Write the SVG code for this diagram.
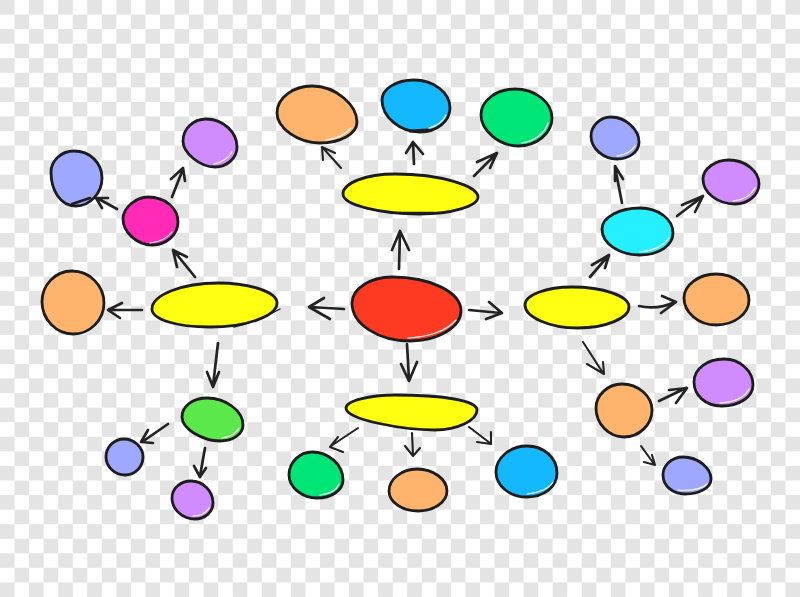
<svg xmlns="http://www.w3.org/2000/svg" width="800" height="597" viewBox="0 0 800 597">
<style>
.b{stroke:#1c1c1c;stroke-width:2.8;stroke-linejoin:round;stroke-linecap:round}
.g{fill:none;stroke:#fff;stroke-width:1.2;stroke-linecap:round}
.x{fill:none;stroke:#1c1c1c;stroke-width:2.6;stroke-linecap:round}
.a{fill:none;stroke:#232323;stroke-width:2.7;stroke-linecap:round;stroke-linejoin:round}
.t{stroke-width:2.1}
.red{fill:#ff3a22}.yel{fill:#ffff12}.org{fill:#ffb46e}.lav{fill:#9fa8ff}.pur{fill:#d08cff}.mag{fill:#ff2bb8}.blu{fill:#14b8ff}.grn{fill:#00e676}.cya{fill:#25f0ff}.lim{fill:#5ae84a}
</style>
<defs><pattern id="chk" width="29.09" height="29.12" patternUnits="userSpaceOnUse"><rect width="29.09" height="29.12" fill="#fff"/><rect width="14.55" height="14.56" fill="#e4e4e4"/><rect x="14.55" y="14.56" width="14.55" height="14.56" fill="#e4e4e4"/></pattern></defs>
<rect width="800" height="597" fill="url(#chk)"/>
<g id="connectors">
<path class="a" d="M399,269L400,231M392,250L400,231L409,250"/>
<path class="a" d="M344,309L310,307M324,298L309,307L330,319"/>
<path class="a" d="M469,310L501,313M489,302L502,313L486,319"/>
<path class="a" d="M407,344L409,380M401,364L409,381L417,362"/>
<path class="a" d="M142,310L108,310M122,303L108,310L120,318"/>
<path class="a" d="M195,277L174,251M187,257L173,250L177,267"/>
<path class="a" d="M172,197L183,169M171,179L183,168L185,181"/>
<path class="a" d="M117,209L97,198M108,198L96,198L102,208"/>
<path class="a" d="M218,343L213,386M207,372L213,387L219,372"/>
<path class="a" d="M168,424L142,442M148,430L141,442L153,443"/>
<path class="a" d="M205,448L200,476M194,466L200,477L206,468"/>
<path class="a t" d="M341,168L323,148M335,153L322,147L323,160"/>
<path class="a" d="M414,164L413,143M406,153L413,142L423,154"/>
<path class="a" d="M474,176L496,154M477,162L497,153L490,168"/>
<path class="a" d="M622,203L615,167M615,181L615,166L623,179"/>
<path class="a" d="M677,216L702,197M682,205L703,196L695,212"/>
<path class="a" d="M590,277L608,256M592,265L609,255L605,268"/>
<path class="a" d="M639,306C652,309 664,307 675,302M662,296L676,302L661,313"/>
<path class="a t" d="M583,342L603,373M587,364L604,374L603,362"/>
<path class="a" d="M659,401L686,388M669,390L687,388L676,403"/>
<path class="a t" d="M641,446L654,464M644,462L655,465L652,455"/>
<path class="a t" d="M358,428L331,446M338,437L330,447L343,452"/>
<path class="a t" d="M412,433L413,455M405,446L413,456L420,448"/>
<path class="a t" d="M469,427L490,443M477,442L491,444L491,432"/>
</g>
<g id="node-center"><path class="b red" d="M352,303C352,289 370,277 392,277C430,277 461,292 461,311C461,327 438,341 410,341C378,341 352,324 352,303Z"/><path class="g" d="M456,320C447,331 428,337 408,338"/></g>
<g id="node-yellow-left"><path class="b yel" d="M152,309C152,295 182,283 218,283C250,283 277,292 277,303C277,316 247,327 210,327C175,327 152,319 152,309Z"/><path class="x" style="stroke-width:1.4" d="M234,327C250,323 266,317 280,309"/></g>
<g id="node-yellow-top"><path class="b yel" d="M343,194C343,183 366,174 395,174C441,174 478,186 478,197C478,206 452,214 420,214C380,214 343,205 343,194Z"/><path class="x" d="M400,213L434,213"/></g>
<g id="node-yellow-right"><path class="b yel" d="M525,305C525,295 546,287 572,287C603,287 629,296 629,307C629,318 606,328 578,328C549,328 525,317 525,305Z"/></g>
<g id="node-yellow-bottom"><path class="b yel" d="M346,408C346,401 369,395 395,395C440,395 477,400 477,410C477,420 458,430 435,430C405,430 346,420 346,408Z"/></g>
<g id="node-left-orange"><path class="b org" d="M42,302C42,285 55,271 72,271C90,271 104,286 104,303C104,320 90,334 73,334C56,334 42,319 42,302Z"/><path class="x" style="stroke-width:1.4" d="M46,318C52,328 60,332 70,334"/></g>
<g id="node-magenta"><path class="b mag" d="M123,219C123,207 137,197 148,197C165,197 178,208 178,222C178,235 166,245 152,245C137,245 123,232 123,219Z"/><path class="g" d="M172,232C166,240 158,242 150,243"/></g>
<g id="node-left-lavender"><path class="b lav" d="M51,172C51,160 62,151 74,151C90,151 102,163 102,178C102,193 90,206 76,206C60,206 51,190 51,172Z"/><path class="x" d="M72,204L90,198"/></g>
<g id="node-left-purple"><path class="b pur" d="M183,141C183,129 193,119 206,119C223,119 237,132 237,147C237,158 227,167 215,167C200,167 183,153 183,141Z"/><path class="g" d="M232,152C228,159 222,162 214,164"/></g>
<g id="node-top-orange"><path class="b org" d="M277,113C277,98 293,86 312,86C337,86 357,106 357,122C357,134 340,143 320,143C298,143 277,128 277,113Z"/><path class="g" d="M351,128C345,135 336,139 326,140"/></g>
<g id="node-top-blue"><path class="b blu" d="M382,100C382,89 396,80 414,80C434,80 450,93 450,108C450,121 437,132 420,132C400,132 382,117 382,100Z"/><path class="x" style="stroke-width:3" d="M410,131L428,130"/><path class="g" d="M446,115C443,122 437,126 429,128"/></g>
<g id="node-top-green"><path class="b grn" d="M481,115C481,101 496,89 515,89C535,89 552,102 552,118C552,133 537,146 518,146C499,146 481,130 481,115Z"/><path class="g" d="M548,123C545,133 535,141 522,143"/></g>
<g id="node-right-lavender"><path class="b lav" d="M591,136C591,126 600,117 611,117C626,117 639,130 639,142C639,152 629,159 617,159C604,159 591,149 591,136Z"/><path class="g" d="M635,146C631,152 625,155 617,156"/></g>
<g id="node-right-purple"><path class="b pur" d="M703,179C703,169 715,160 729,160C745,160 759,171 759,184C759,195 748,204 735,204C718,204 703,193 703,179Z"/><path class="g" d="M755,188C751,195 743,200 733,201"/></g>
<g id="node-cyan"><path class="b cya" d="M602,229C602,217 620,208 640,208C658,208 673,219 673,233C673,246 658,255 640,255C620,255 602,244 602,229Z"/><path class="g" d="M669,238C664,246 652,251 640,252"/></g>
<g id="node-right-orange"><path class="b org" d="M684,298C684,285 699,274 716,274C734,274 749,286 749,300C749,314 734,325 716,325C698,325 684,312 684,298Z"/></g>
<g id="node-br-orange"><path class="b org" d="M596,408C596,395 608,384 622,384C638,384 652,396 652,410C652,425 639,437 624,437C609,437 596,424 596,408Z"/></g>
<g id="node-br-purple"><path class="b pur" d="M694,382C694,369 707,359 724,359C740,359 753,371 753,385C753,397 739,406 722,406C705,406 694,395 694,382Z"/><path class="g" d="M749,389C745,397 734,402 720,403"/></g>
<g id="node-br-lavender"><path class="b lav" d="M663,475C663,465 672,457 683,457C698,457 711,468 711,479C711,488 699,494 685,494C673,494 663,486 663,475Z"/><path class="g" d="M707,484C702,489 692,491 678,490"/></g>
<g id="node-bottom-green"><path class="b grn" d="M289,475C289,462 300,452 312,452C329,452 343,465 343,480C343,490 332,498 317,498C303,498 289,488 289,475Z"/><path class="g" d="M339,484C336,491 330,494 320,495"/></g>
<g id="node-bottom-orange"><path class="b org" d="M389,491C389,479 402,469 417,469C433,469 447,479 447,491C447,502 434,511 418,511C402,511 389,502 389,491Z"/></g>
<g id="node-bottom-blue"><path class="b blu" d="M496,472C496,458 510,446 527,446C544,446 557,458 557,473C557,487 544,497 527,497C510,497 496,486 496,472Z"/><path class="g" d="M553,482C549,489 538,493 527,494"/></g>
<g id="node-bl-green"><path class="b lim" d="M182,417C182,406 193,398 207,398C226,398 243,411 243,425C243,434 233,441 220,441C203,441 182,429 182,417Z"/><path class="g" d="M239,428C236,434 230,437 222,438"/></g>
<g id="node-bl-lavender"><path class="b lav" d="M106,457C106,447 114,439 124,439C134,439 143,447 143,457C143,467 135,475 125,475C115,475 106,467 106,457Z"/></g>
<g id="node-bl-purple"><path class="b pur" d="M172,498C172,488 181,481 191,481C203,481 213,491 213,503C213,512 205,519 195,519C183,519 172,510 172,498Z"/><path class="g" d="M209,508C206,513 200,516 193,516"/></g>
</svg>
